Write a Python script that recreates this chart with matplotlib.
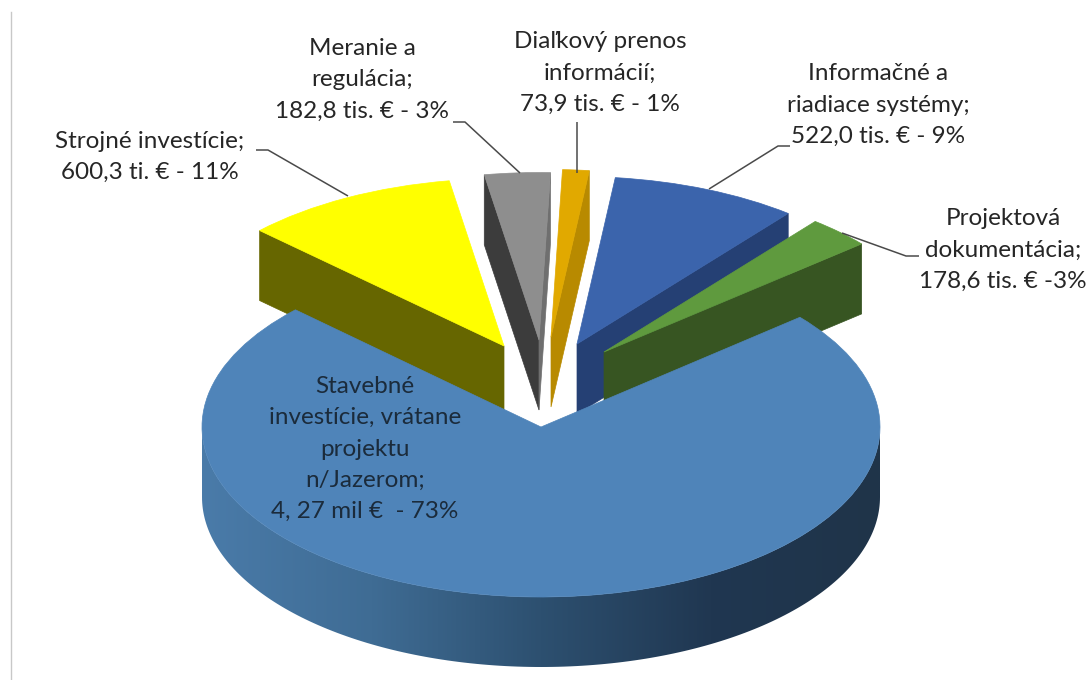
import numpy as np
import matplotlib
matplotlib.use('Agg')
import matplotlib.pyplot as plt
from matplotlib.colors import LinearSegmentedColormap
from matplotlib.patches import Polygon
from matplotlib.transforms import Affine2D

plt.rcParams['font.family'] = ['Lato', 'DejaVu Sans']

categories = ['Stavebné\ninvestície, vrátane\nprojektu\nn/Jazerom;\n4, 27 mil €  - 73%',
              'Strojné investície;\n600,3 ti. € - 11%',
              'Meranie a\nregulácia;\n182,8 tis. € - 3%',
              'Diaľkový prenos\ninformácií;\n73,9 tis. € - 1%',
              'Informačné a\nriadiace systémy;\n522,0 tis. € - 9%',
              'Projektová\ndokumentácia;\n178,6 tis. € -3%']
values = [4270.0, 600.3, 182.8, 73.9, 522.0, 178.6]

top_colors = ['#4F84B9', '#FFFF00', '#8E8E8E', '#E1A900', '#3B64AC', '#5F9A3E']
wall_colors = ['#4F84B9', '#666600', '#3C3C3C', '#B88A00', '#254074', '#375522']
offsets = [(0, 0), (-37, -81), (-2, -87), (10, -90), (36, -83), (63, -75)]
radii_x = [1.0, 0.995, 0.995, 0.995, 0.995, 0.995]
radii_y = [1.0, 0.985, 0.985, 0.985, 0.985, 0.985]
draw_order = [2, 3, 1, 4, 5, 0]

label_pos = [(365, 449), (150, 157), (362, 80), (600, 73), (878, 105), (1003, 250)]
leaders = [None,
           [(256, 150), (268, 150), (348, 196)],
           [(453, 122), (465, 122), (520, 173)],
           [(577, 122), (577, 173)],
           [(790, 146), (778, 146), (709, 189)],
           [(919, 256), (906, 256), (842, 233)]]

CX, CY = 541, 427
RX, RY = 339, 170
DEPTH = 70

fig = plt.figure(figsize=(10.88, 6.8), dpi=100)
ax = fig.add_axes([0, 0, 1, 1])

wedges, _ = ax.pie(values, startangle=40.2, counterclock=False)


def wall(i, angle, color, z):
    # radial cut face, from the apex to the rim and down by the pie depth
    dx, dy = offsets[i]
    a = np.radians(angle)
    ox = CX + dx + RX * radii_x[i] * np.cos(a)
    oy = CY + dy - RY * radii_y[i] * np.sin(a)
    ax.add_patch(Polygon([(CX + dx, CY + dy), (ox, oy), (ox, oy + DEPTH), (CX + dx, CY + dy + DEPTH)],
                         closed=True, fc=color, ec=color, lw=0.5, zorder=z))


for z, i in enumerate(draw_order):
    w = wedges[i]
    dx, dy = offsets[i]
    w.set_transform(Affine2D().scale(RX * radii_x[i], -RY * radii_y[i]).translate(CX + dx, CY + dy) + ax.transData)
    w.set_facecolor(top_colors[i])
    w.set_edgecolor(top_colors[i])
    w.set_linewidth(0.5)
    w.set_zorder(z * 2 + 2)
    if i == 0:
        continue
    # slices left of the middle show their far cut face, the others the near one
    if i in (1, 2):
        wall(i, w.theta2, wall_colors[i], z * 2 + 1)
    if i == 2:
        wall(i, w.theta1, '#6F6F6F', z * 2 + 1)
    if i > 2:
        wall(i, w.theta1, wall_colors[i], z * 2 + 1)

# rim of the main slice, horizontal shading
t = np.radians(np.linspace(180, 360, 181))
rim_x = CX + RX * np.cos(t)
rim_y = CY - RY * np.sin(t)
rim = Polygon(np.r_[np.c_[rim_x, rim_y], np.c_[rim_x[::-1], rim_y[::-1] + DEPTH]],
              closed=True, fc='none', ec='none', transform=ax.transData)
ax.add_patch(rim)
cmap = LinearSegmentedColormap.from_list('rim', [(0, '#4A7BA9'), (0.25, '#3F6C94'), (0.5, '#2D5070'),
                                                 (0.75, '#203751'), (1, '#1F3449')])
img = ax.imshow(np.linspace(0, 1, 256).reshape(1, -1), cmap=cmap, aspect='auto',
                extent=(CX - RX, CX + RX, CY + RY + DEPTH, CY), zorder=1)
img.set_clip_path(rim)

for i, pts in enumerate(leaders):
    if pts is not None:
        ax.plot(*zip(*pts), color='#4A4A4A', lw=1.1, zorder=20, solid_capstyle='butt')

for i, label in enumerate(categories):
    ax.text(label_pos[i][0], label_pos[i][1], label, ha='center', va='center', ma='center',
            fontsize=17.5, linespacing=1.6, color='#1B2B3B' if i == 0 else '#262626', zorder=30)

ax.plot([11, 11], [12, 680], color='#C8C8C8', lw=1)

ax.set_aspect('auto')
ax.set_xlim(0, 1088)
ax.set_ylim(680, 0)
ax.axis('off')

fig.savefig('out.png', dpi=100)
